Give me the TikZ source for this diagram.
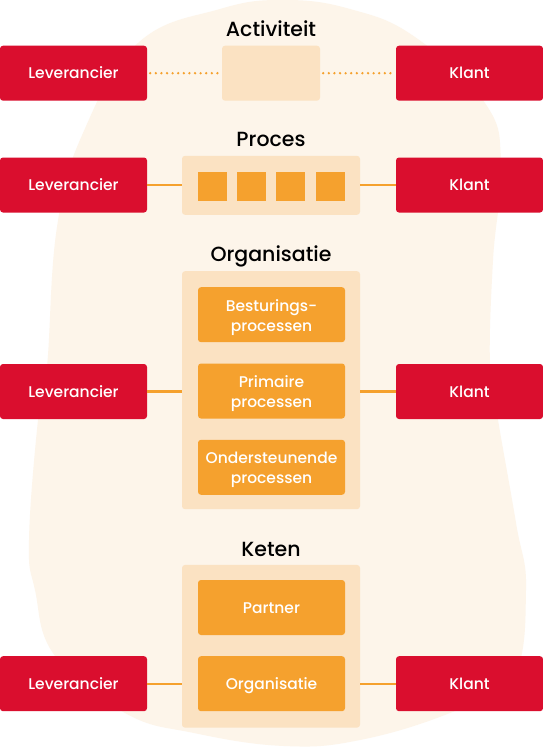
\documentclass[tikz,border=0pt]{standalone}
\usepackage{fontspec}
\setmainfont{Poppins}
\newfontfamily\pmed{Poppins Medium}
\definecolor{redbox}{RGB}{218,14,46}
\definecolor{orangebox}{RGB}{245,161,46}
\definecolor{contbox}{RGB}{251,226,194}
\definecolor{blobcol}{RGB}{253,245,234}
\newcommand\mytwoline[2]{\raisebox{-2.5pt}[\height][\depth]{\begin{tabular}{@{}c@{}}#1\\#2\end{tabular}}}
\begin{document}
\begin{tikzpicture}[x=1pt,y=-1pt,
  redn/.style={fill=redbox, rounded corners=3pt, minimum width=147pt, minimum height=55pt, inner sep=0pt, text=white, text height=11pt, text depth=0pt, font=\pmed\fontsize{15.5}{20}\selectfont},
  orn/.style={fill=orangebox, rounded corners=3pt, minimum width=147pt, minimum height=55pt, inner sep=0pt, text=white, font=\pmed\fontsize{15.5}{20}\selectfont},
  orn1/.style={orn, text height=11pt, text depth=0pt},
  cont/.style={fill=contbox, rounded corners=3pt, inner sep=0pt, minimum width=178pt},
  sq/.style={fill=orangebox, minimum width=29pt, minimum height=29pt, inner sep=0pt},
  ttl/.style={anchor=base, inner sep=0pt, font=\pmed\fontsize{20.5}{24}\selectfont},
  conn/.style={draw=orangebox, line width=2.2pt},
  dotconn/.style={draw=orangebox, line width=2.6pt, line cap=round, dash pattern=on 0pt off 5.6pt}
]
\useasboundingbox (0,0) rectangle (543,747);
\fill[white] (0,0) rectangle (543,747);
\fill[blobcol] plot[smooth cycle, tension=0.7] coordinates {(284,0) (220,9) (138,43) (83,133) (57,227) (47,367) (38,420) (29,540) (35,590) (55,656) (125,713) (194,733) (284,746) (360,740) (450,713) (512,680) (526,590) (516,523) (498,420) (490,367) (493,260) (501,165) (485,103) (415,37) (350,9)};

% Row 1: Activiteit
\node[ttl] (t1) at (271,36.7) {Activiteit};
\node[redn] (lev1) at (73.5,73.2) {Leverancier};
\node[redn] (kl1) at (469.5,73.2) {Klant};
\node[fill=contbox, rounded corners=3pt, minimum width=98pt, minimum height=55pt, inner sep=0pt] (act) at (271,73.2) {};
\draw[dotconn] ([xshift=3pt]lev1.east) -- (act.west);
\draw[dotconn] ([xshift=3pt]act.east) -- (kl1.west);

% Row 2: Proces
\node[ttl] (t2) at (271,146.7) {Proces};
\node[redn] (lev2) at (73.5,185) {Leverancier};
\node[redn] (kl2) at (469.5,185) {Klant};
\node[cont, minimum height=59pt] (proc) at (271,185.3) {};
\node[sq] (s1) at (212.2,186.3) {};
\node[sq] (s2) at (251.4,186.3) {};
\node[sq] (s3) at (290.8,186.3) {};
\node[sq] (s4) at (330.3,186.3) {};
\draw[conn] (lev2.east) -- (lev2.east -| proc.west);
\draw[conn] (proc.east |- kl2.west) -- (kl2.west);

% Row 3: Organisatie
\node[ttl] (t3) at (271,261.7) {Organisatie};
\node[cont, minimum height=238pt] (org) at (271,390.2) {};
\node[orn] (b1) at (271.5,314.7) {\mytwoline{Besturings-}{processen}};
\node[orn] (b2) at (271.5,391) {\mytwoline{Primaire}{processen}};
\node[orn] (b3) at (271.5,467.3) {\mytwoline{Ondersteunende}{processen}};
\node[redn] (lev3) at (73.5,391.5) {Leverancier};
\node[redn] (kl3) at (469.5,391.5) {Klant};
\draw[conn] (lev3.east) -- (lev3.east -| org.west);
\draw[conn] (org.east |- kl3.west) -- (kl3.west);

% Row 4: Keten
\node[ttl] (t4) at (271,556.3) {Keten};
\node[cont, minimum height=162.7pt] (ket) at (271,646.3) {};
\node[orn1] (p1) at (271.5,607.5) {Partner};
\node[orn1] (p2) at (271.5,683.7) {Organisatie};
\node[redn] (lev4) at (73.5,683.7) {Leverancier};
\node[redn] (kl4) at (469.5,683.7) {Klant};
\draw[conn] (lev4.east) -- (lev4.east -| ket.west);
\draw[conn] (ket.east |- kl4.west) -- (kl4.west);
\end{tikzpicture}
\end{document}
